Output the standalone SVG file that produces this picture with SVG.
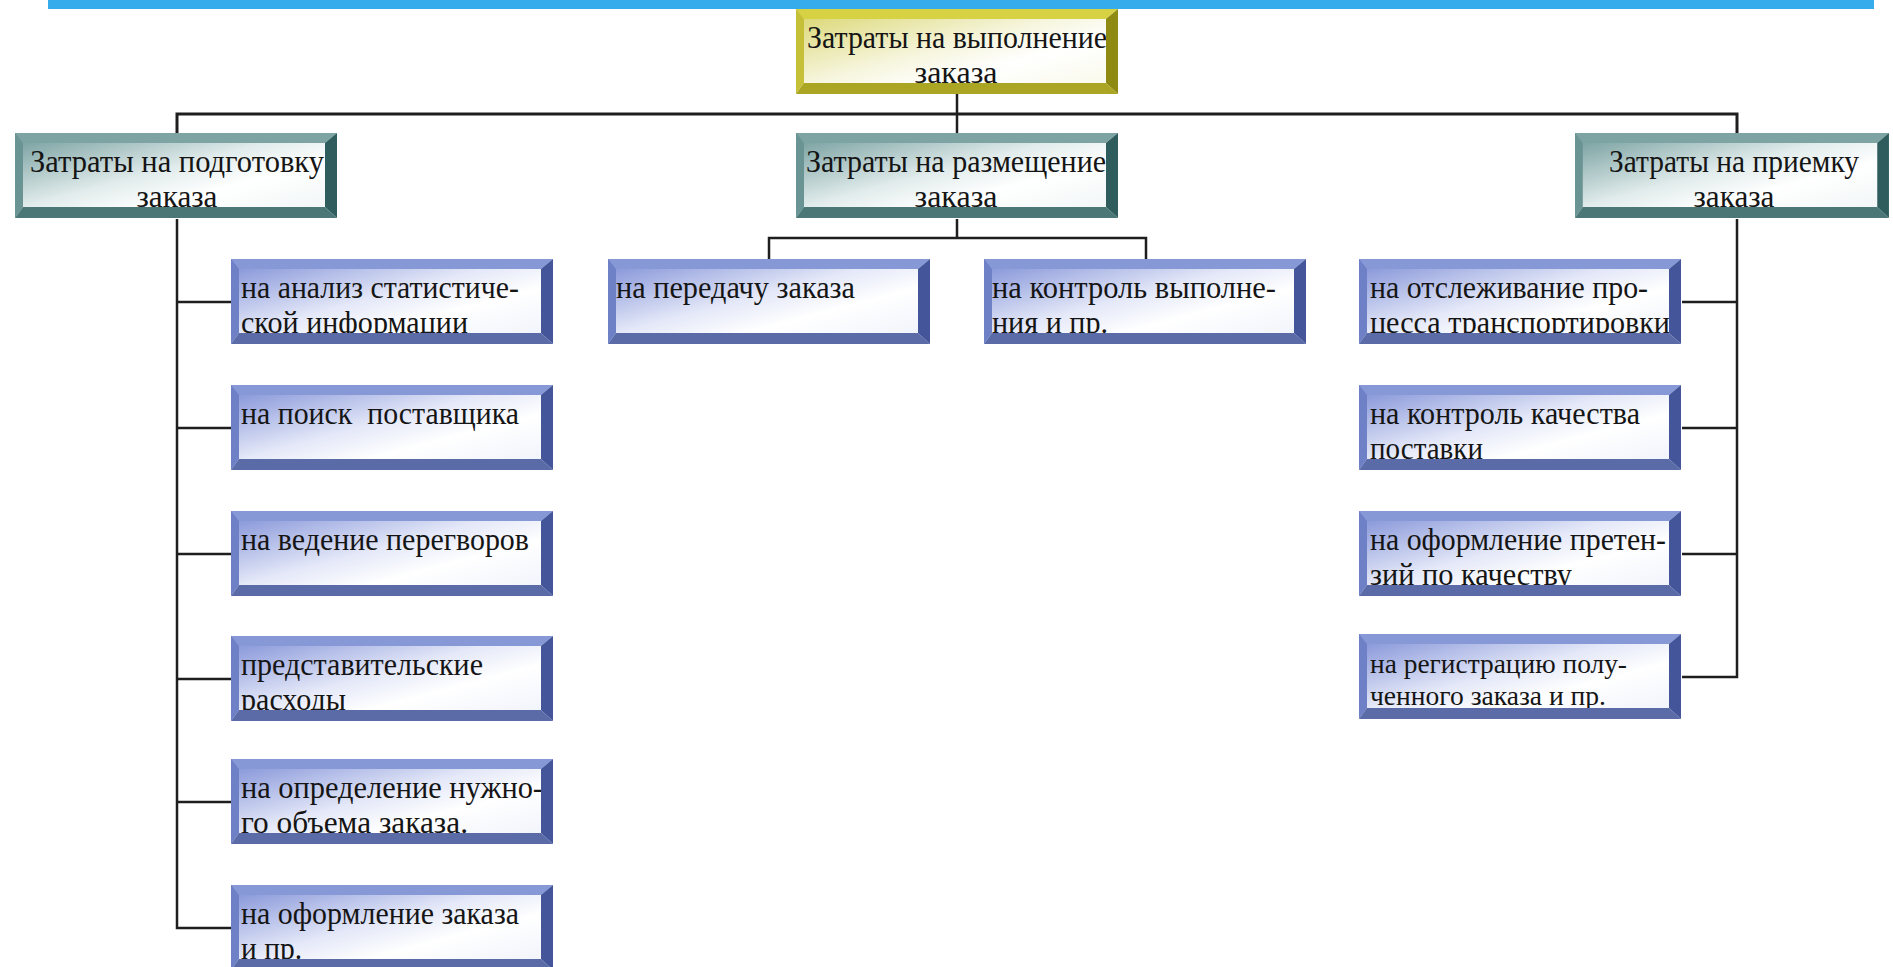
<svg xmlns="http://www.w3.org/2000/svg" xmlns:xlink="http://www.w3.org/1999/xlink" width="1893" height="967" viewBox="0 0 1893 967">
<style>
  text{font-family:"Liberation Serif","Times New Roman",serif;font-size:31px;fill:#151515;}
  .c{text-anchor:middle;}
  .sm{font-size:27px;}
  .conn{fill:none;stroke:#1e1e1e;stroke-width:2.5;}
  .main{stroke-width:3;}
  .fb{fill:url(#gBlue);}
  .ft{fill:url(#gTeal);}
  .fg{fill:url(#gGold);}
</style>
<defs>
  <linearGradient id="gBlue" x1="0" y1="0" x2="1" y2="1">
    <stop offset="0" stop-color="#7a8bd5"/>
    <stop offset="0.45" stop-color="#e4e8f8"/>
    <stop offset="0.65" stop-color="#ffffff"/>
    <stop offset="1" stop-color="#eef1fb"/>
  </linearGradient>
  <linearGradient id="gTeal" x1="0" y1="0" x2="1" y2="1">
    <stop offset="0" stop-color="#6c9797"/>
    <stop offset="0.45" stop-color="#e2ecec"/>
    <stop offset="0.65" stop-color="#ffffff"/>
    <stop offset="1" stop-color="#eef4f4"/>
  </linearGradient>
  <linearGradient id="gGold" x1="0" y1="0" x2="1" y2="1">
    <stop offset="0" stop-color="#d8d46a"/>
    <stop offset="0.45" stop-color="#f6f5dc"/>
    <stop offset="0.65" stop-color="#ffffff"/>
    <stop offset="1" stop-color="#f8f8e6"/>
  </linearGradient>
  <g id="frameBlue">
    <polygon fill="#8798d6" points="0,0 322,0 310,10 8,10"/>
    <polygon fill="#6f81c6" points="0,0 8,10 8,74 0,85"/>
    <polygon fill="#44559a" points="322,0 322,85 310,74 310,10"/>
    <polygon fill="#5a6ba8" points="0,85 322,85 310,74 8,74"/>
  </g>
  <g id="frameTeal">
    <polygon fill="#7ea3a3" points="0,0 322,0 310,10 8,10"/>
    <polygon fill="#6a9494" points="0,0 8,10 8,74 0,85"/>
    <polygon fill="#2f5c5c" points="322,0 322,85 310,74 310,10"/>
    <polygon fill="#4b7777" points="0,85 322,85 310,74 8,74"/>
  </g>
  <g id="frameGold">
    <polygon fill="#d6d244" points="0,0 322,0 310,10 8,10"/>
    <polygon fill="#c6c038" points="0,0 8,10 8,74 0,85"/>
    <polygon fill="#8e8a12" points="322,0 322,85 310,74 310,10"/>
    <polygon fill="#aaa522" points="0,85 322,85 310,74 8,74"/>
  </g>
</defs>

<rect x="0" y="0" width="1893" height="967" fill="#ffffff"/>
<rect x="48" y="0" width="1826" height="9" fill="#36aced"/>

<g id="connectors">
  <path class="conn" d="M957 93 V133"/>
  <path class="conn main" d="M177 133 V114 H1737 V133"/>
  <path class="conn" d="M177 219 V928 H231 M177 302 H231 M177 428 H231 M177 554 H231 M177 679 H231 M177 802 H231"/>
  <path class="conn" d="M957 219 V238 M769 259 V238 H1146 V259"/>
  <path class="conn" d="M1737 219 V677 H1682 M1737 302 H1682 M1737 428 H1682 M1737 554 H1682"/>
</g>

<g id="node-root" transform="translate(796,9)">
  <rect class="fg" width="322" height="85"/>
  <text class="c" x="161" y="39" textLength="300" lengthAdjust="spacingAndGlyphs">Затраты на выполнение</text>
  <text class="c" x="160" y="73.5" textLength="83" lengthAdjust="spacingAndGlyphs">заказа</text>
  <use xlink:href="#frameGold"/>
</g>

<g id="node-prep" transform="translate(15,133)">
  <rect class="ft" width="322" height="85"/>
  <text class="c" x="162" y="39" textLength="294" lengthAdjust="spacingAndGlyphs">Затраты на подготовку</text>
  <text class="c" x="162" y="73.5" textLength="81" lengthAdjust="spacingAndGlyphs">заказа</text>
  <use xlink:href="#frameTeal"/>
</g>

<g id="node-place" transform="translate(796,133)">
  <rect class="ft" width="322" height="85"/>
  <text class="c" x="160" y="39" textLength="300" lengthAdjust="spacingAndGlyphs">Затраты на размещение</text>
  <text class="c" x="160" y="73.5" textLength="83" lengthAdjust="spacingAndGlyphs">заказа</text>
  <use xlink:href="#frameTeal"/>
</g>

<g id="node-accept" transform="translate(1575,133)">
  <rect class="ft" width="314" height="85"/>
  <text class="c" x="159" y="39" textLength="250" lengthAdjust="spacingAndGlyphs">Затраты на приемку</text>
  <text class="c" x="159" y="73.5" textLength="81" lengthAdjust="spacingAndGlyphs">заказа</text>
  <use xlink:href="#frameTeal" transform="scale(0.975,1)"/>
</g>

<g id="node-l1" transform="translate(231,259)">
  <rect class="fb" width="322" height="85"/>
  <text x="10" y="39" textLength="278" lengthAdjust="spacingAndGlyphs">на анализ статистиче-</text>
  <text x="10" y="73.5" textLength="227" lengthAdjust="spacingAndGlyphs">ской информации</text>
  <use xlink:href="#frameBlue"/>
</g>
<g id="node-l2" transform="translate(231,385)">
  <rect class="fb" width="322" height="85"/>
  <text x="10" y="39" textLength="278" lengthAdjust="spacingAndGlyphs" xml:space="preserve">на поиск  поставщика</text>
  <use xlink:href="#frameBlue"/>
</g>
<g id="node-l3" transform="translate(231,511)">
  <rect class="fb" width="322" height="85"/>
  <text x="10" y="39" textLength="288" lengthAdjust="spacingAndGlyphs">на ведение перегворов</text>
  <use xlink:href="#frameBlue"/>
</g>
<g id="node-l4" transform="translate(231,636)">
  <rect class="fb" width="322" height="85"/>
  <text x="10" y="39" textLength="242" lengthAdjust="spacingAndGlyphs">представительские</text>
  <text x="10" y="73.5" textLength="105" lengthAdjust="spacingAndGlyphs">расходы</text>
  <use xlink:href="#frameBlue"/>
</g>
<g id="node-l5" transform="translate(231,759)">
  <rect class="fb" width="322" height="85"/>
  <text x="10" y="39" textLength="302" lengthAdjust="spacingAndGlyphs">на определение нужно-</text>
  <text x="10" y="73.5" textLength="227" lengthAdjust="spacingAndGlyphs">го объема заказа.</text>
  <use xlink:href="#frameBlue"/>
</g>
<g id="node-l6" transform="translate(231,885)">
  <rect class="fb" width="322" height="85"/>
  <text x="10" y="39" textLength="278" lengthAdjust="spacingAndGlyphs">на оформление заказа</text>
  <text x="10" y="73.5" textLength="61" lengthAdjust="spacingAndGlyphs">и пр.</text>
  <use xlink:href="#frameBlue"/>
</g>

<g id="node-m1" transform="translate(608,259)">
  <rect class="fb" width="322" height="85"/>
  <text x="8" y="39" textLength="239" lengthAdjust="spacingAndGlyphs">на передачу заказа</text>
  <use xlink:href="#frameBlue"/>
</g>
<g id="node-m2" transform="translate(984,259)">
  <rect class="fb" width="322" height="85"/>
  <text x="8" y="39" textLength="284" lengthAdjust="spacingAndGlyphs">на контроль выполне-</text>
  <text x="8" y="73.5" textLength="116" lengthAdjust="spacingAndGlyphs">ния и пр.</text>
  <use xlink:href="#frameBlue"/>
</g>

<g id="node-r1" transform="translate(1359,259)">
  <rect class="fb" width="322" height="85"/>
  <text x="11" y="39" textLength="278" lengthAdjust="spacingAndGlyphs">на отслеживание про-</text>
  <text x="11" y="73.5" textLength="300" lengthAdjust="spacingAndGlyphs">цесса транспортировки</text>
  <use xlink:href="#frameBlue"/>
</g>
<g id="node-r2" transform="translate(1359,385)">
  <rect class="fb" width="322" height="85"/>
  <text x="11" y="39" textLength="270" lengthAdjust="spacingAndGlyphs">на контроль качества</text>
  <text x="11" y="73.5" textLength="113" lengthAdjust="spacingAndGlyphs">поставки</text>
  <use xlink:href="#frameBlue"/>
</g>
<g id="node-r3" transform="translate(1359,511)">
  <rect class="fb" width="322" height="85"/>
  <text x="11" y="39" textLength="296" lengthAdjust="spacingAndGlyphs">на оформление претен-</text>
  <text x="11" y="73.5" textLength="202" lengthAdjust="spacingAndGlyphs">зий по качеству</text>
  <use xlink:href="#frameBlue"/>
</g>
<g id="node-r4" transform="translate(1359,634)">
  <rect class="fb" width="322" height="85"/>
  <text class="sm" x="11" y="39" textLength="257" lengthAdjust="spacingAndGlyphs">на регистрацию полу-</text>
  <text class="sm" x="11" y="71" textLength="236" lengthAdjust="spacingAndGlyphs">ченного заказа и пр.</text>
  <use xlink:href="#frameBlue"/>
</g>
</svg>
